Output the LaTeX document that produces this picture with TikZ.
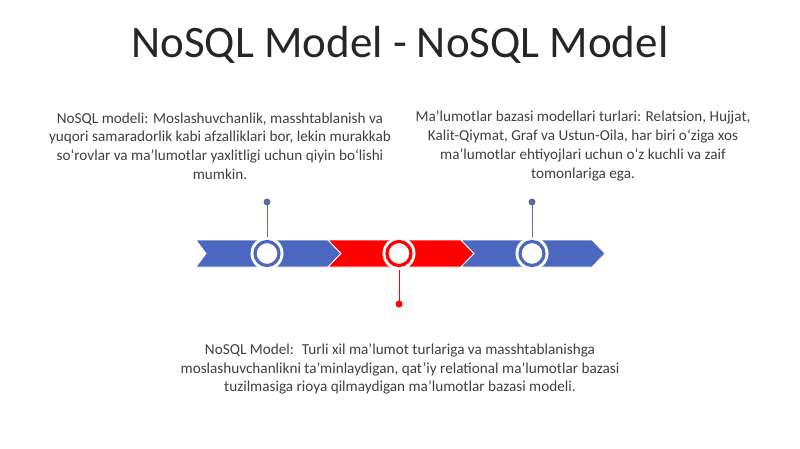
\documentclass[tikz,border=0pt]{standalone}
\usepackage{fontspec}
\setmainfont{Carlito}
\usetikzlibrary{positioning,calc}
\definecolor{bandblue}{HTML}{4C67C0}
\definecolor{bandred}{HTML}{FF0000}
\definecolor{stemblue}{HTML}{5E6B9E}
\definecolor{textgray}{HTML}{404040}

\begin{document}
\begin{tikzpicture}[
    x=1pt, y=-1pt,
    every node/.style={font=\fontsize{15.2}{18.8}\selectfont, text=textgray},
    desc/.style={align=center, inner sep=0pt},
    chev/.style={fill=#1, draw=white, line width=0.8pt},
    ring/.style={circle, draw=#1, line width=3.2pt, fill=white, minimum size=24pt, inner sep=0pt},
    halo/.style={circle, fill=white, minimum size=33pt, inner sep=0pt},
    stem/.style={draw=#1, line width=0.9pt},
    dot/.style={circle, fill=#1, minimum size=7pt, inner sep=0pt},
]
\useasboundingbox (0,0) rectangle (800,449);

% === Title ===
\node[font=\fontsize{45}{50}\selectfont, text=black!85] (title) at (400,45) {NoSQL Model - NoSQL Model};

% === Timeline band ===
\fill[chev=bandblue] (196,240) -- (328,240) -- (341,253.5) -- (328,267) -- (196,267) -- (206,253.5) -- cycle;
\fill[chev=bandred] (328,240) -- (461,240) -- (474,253.5) -- (461,267) -- (328,267) -- (341,253.5) -- cycle;
\fill[chev=bandblue] (461,240) -- (592,240) -- (605,253.5) -- (592,267) -- (461,267) -- (474,253.5) -- cycle;

% === Stems ===
\node[dot=stemblue] (d1) at (267,202) {};
\node[dot=bandred] (d2) at (399,304) {};
\node[dot=stemblue] (d3) at (532,202) {};
\coordinate (c1) at (267,253.5);
\coordinate (c2) at (399,253.5);
\coordinate (c3) at (532,253.5);
\draw[stem=stemblue] (d1.center) -- (c1);
\draw[stem=bandred] (d2.center) -- (c2);
\draw[stem=stemblue] (d3.center) -- (c3);

% === Rings ===
\node[halo] at (c1) {};
\node[halo] at (c2) {};
\node[halo] at (c3) {};
\node[ring=bandblue] (r1) at (c1) {};
\node[ring=bandred] (r2) at (c2) {};
\node[ring=bandblue] (r3) at (c3) {};

% === Descriptions ===
\node[desc] (left) at (220,146) {NoSQL modeli: Moslashuvchanlik, masshtablanish va\\ yuqori samaradorlik kabi afzalliklari bor, lekin murakkab\\ so‘rovlar va ma’lumotlar yaxlitligi uchun qiyin bo‘lishi\\ mumkin.};
\node[desc] (right) at (583,146) {Ma’lumotlar bazasi modellari turlari: Relatsion, Hujjat,\\ Kalit-Qiymat, Graf va Ustun-Oila, har biri o‘ziga xos\\ ma’lumotlar ehtiyojlari uchun o‘z kuchli va zaif\\ tomonlariga ega.};
\node[desc] (bottom) at (400,369) {NoSQL Model:~ Turli xil ma’lumot turlariga va masshtablanishga\\ moslashuvchanlikni ta’minlaydigan, qat’iy relational ma’lumotlar bazasi\\ tuzilmasiga rioya qilmaydigan ma’lumotlar bazasi modeli.};
\end{tikzpicture}
\end{document}
